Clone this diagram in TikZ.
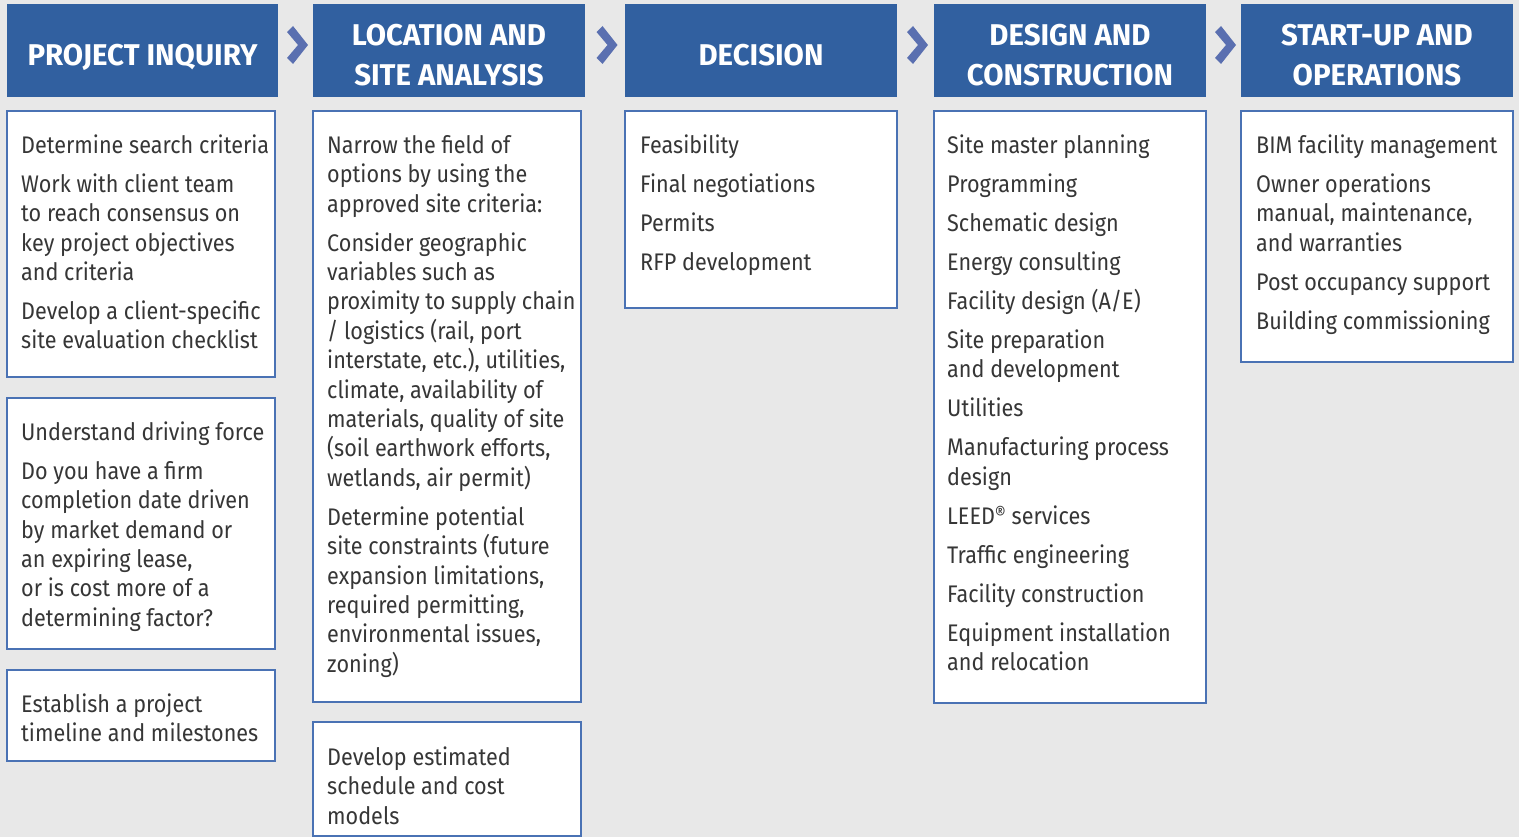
\documentclass[tikz,border=0pt]{standalone}
\usepackage{fontspec}
\setmainfont{Fira Sans}[FakeStretch=0.9]
\newfontfamily\hdrfont{Fira Sans}[FakeStretch=0.98]
\usetikzlibrary{calc}
\definecolor{bg}{HTML}{E8E8E8}
\definecolor{hdr}{HTML}{3160A0}
\definecolor{bord}{HTML}{4A72B4}
\definecolor{chev}{HTML}{5A6FB0}
\definecolor{txt}{HTML}{363636}
\newcommand{\fl}{\rule{0pt}{22pt}}
\newcommand{\hl}{\rule{0pt}{25pt}}
\newcommand{\pg}{\\[9.6pt]}
\begin{document}
\begin{tikzpicture}[x=1pt,y=-1pt,
  hdrbox/.style={fill=hdr, draw=none, anchor=north west, inner sep=0pt, outer sep=0pt, minimum height=93pt},
  hdrtxt/.style={text=white, font=\hdrfont\bfseries\fontsize{30}{40}\selectfont, align=center, inner sep=0pt, anchor=north},
  cardbox/.style={fill=white, draw=bord, line width=1.3pt, anchor=north west, inner sep=0pt, outer sep=0pt},
  cardtxt/.style={text=txt, font=\fontsize{24}{29.4}\selectfont, align=left, inner sep=0pt, anchor=north west},
  chevron/.style={fill=chev, draw=none}]
\fill[bg] (0,0) rectangle (1519,837);
\useasboundingbox (0,0) rectangle (1519,837);
% headers
\node[hdrbox, minimum width=271pt] (h1) at (7,4) {};
\node[hdrbox, minimum width=272pt] (h2) at (313,4) {};
\node[hdrbox, minimum width=272pt] (h3) at (625,4) {};
\node[hdrbox, minimum width=272pt] (h4) at (934,4) {};
\node[hdrbox, minimum width=272pt] (h5) at (1241,4) {};
\node[hdrtxt] (h1t) at ($(h1.north)+(0,36)$) {\hl PROJECT INQUIRY};
\node[hdrtxt] (h2t) at ($(h2.north)+(0,16)$) {\hl LOCATION AND\\SITE ANALYSIS};
\node[hdrtxt] (h3t) at ($(h3.north)+(0,36)$) {\hl DECISION};
\node[hdrtxt] (h4t) at ($(h4.north)+(0,16)$) {\hl DESIGN AND\\CONSTRUCTION};
\node[hdrtxt] (h5t) at ($(h5.north)+(0,16)$) {\hl START-UP AND\\OPERATIONS};
% chevrons
\foreach \a/\b in {h1/h2,h2/h3,h3/h4,h4/h5}{
  \coordinate (c) at ($($(\a.north east)!0.5!(\b.north west)$)+(1.5,41)$);
  \fill[chevron] ($(c)+(-10,-13)$) -- ($(c)+(-4,-19)$) -- ($(c)+(11,0)$) -- ($(c)+(-4,19)$) -- ($(c)+(-10,13)$) -- ($(c)+(1,0)$) -- cycle;
}
% cards
\node[cardbox, minimum width=268pt, minimum height=266pt] (b11) at (7,111) {};
\node[cardbox, minimum width=268pt, minimum height=251pt] (b12) at (7,398) {};
\node[cardbox, minimum width=268pt, minimum height=91pt] (b13) at (7,670) {};
\node[cardbox, minimum width=268pt, minimum height=591pt] (b21) at (313,111) {};
\node[cardbox, minimum width=268pt, minimum height=114pt] (b22) at (313,722) {};
\node[cardbox, minimum width=272pt, minimum height=197pt] (b3) at (625,111) {};
\node[cardbox, minimum width=272pt, minimum height=592pt] (b4) at (934,111) {};
\node[cardbox, minimum width=272pt, minimum height=251pt] (b5) at (1241,111) {};
% texts
\node[cardtxt] (t11) at ($(b11.north west)+(14,20)$) {\fl Determine search criteria\pg
Work with client team\\to reach consensus on\\key project objectives\\and criteria\pg
Develop a client-specific\\site evaluation checklist};
\node[cardtxt] (t12) at ($(b12.north west)+(14,20)$) {\fl Understand driving force\pg
Do you have a firm\\completion date driven\\by market demand or\\an expiring lease,\\or is cost more of a\\determining factor?};
\node[cardtxt] (t13) at ($(b13.north west)+(14,20)$) {\fl Establish a project\\timeline and milestones};
\node[cardtxt] (t21) at ($(b21.north west)+(14,20)$) {\fl Narrow the field of\\options by using the\\approved site criteria:\pg
Consider geographic\\variables such as\\proximity to supply chain\\/ logistics (rail, port\\interstate, etc.), utilities,\\climate, availability of\\materials, quality of site\\(soil earthwork efforts,\\wetlands, air permit)\pg
Determine potential\\site constraints (future\\expansion limitations,\\required permitting,\\environmental issues,\\zoning)};
\node[cardtxt] (t22) at ($(b22.north west)+(14,21)$) {\fl Develop estimated\\schedule and cost\\models};
\node[cardtxt] (t3) at ($(b3.north west)+(15,20)$) {\fl Feasibility\pg Final negotiations\pg Permits\pg RFP development};
\node[cardtxt] (t4) at ($(b4.north west)+(13,20)$) {\fl Site master planning\pg Programming\pg Schematic design\pg Energy consulting\pg Facility design (A/E)\pg
Site preparation\\and development\pg Utilities\pg Manufacturing process\\design\pg LEED\raisebox{3.5pt}{\fontsize{19}{19}\selectfont ®} services\pg Traffic engineering\pg Facility construction\pg Equipment installation\\and relocation};
\node[cardtxt] (t5) at ($(b5.north west)+(15,20)$) {\fl BIM facility management\pg Owner operations\\manual, maintenance,\\and warranties\pg Post occupancy support\pg Building commissioning};
\end{tikzpicture}
\end{document}
